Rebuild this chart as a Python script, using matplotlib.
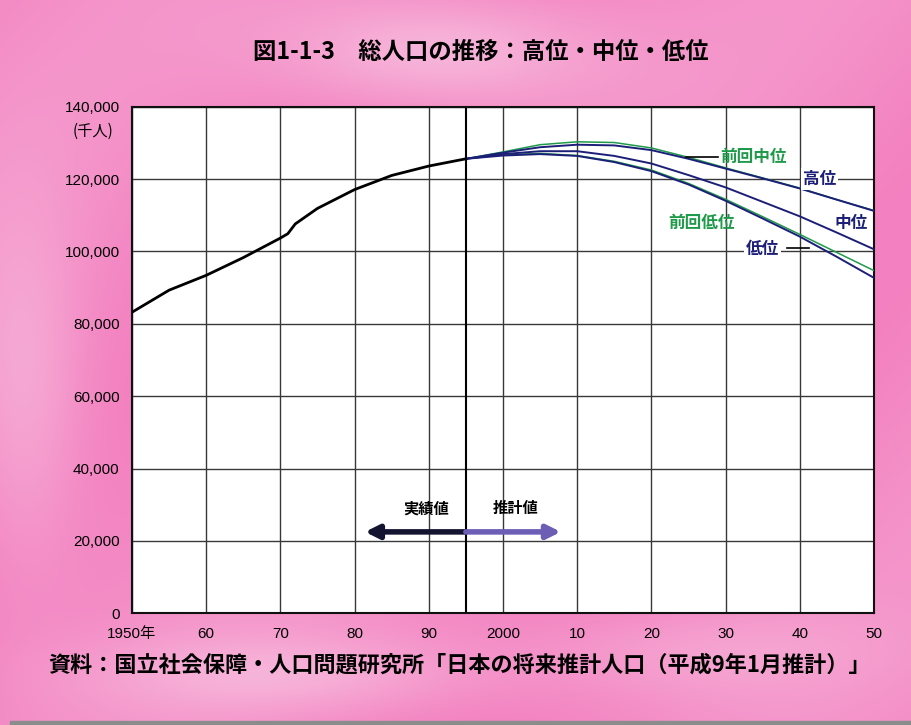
import numpy as np
import matplotlib
matplotlib.use("Agg")
import matplotlib.pyplot as plt
from matplotlib.patches import Rectangle

plt.rcParams['font.family'] = ['Noto Sans CJK JP', 'DejaVu Sans']

# Total population (thousands), observed
years_actual = [1950, 1955, 1960, 1965, 1970, 1971, 1972, 1975, 1980, 1985, 1990, 1995]
pop_actual = [83200, 89300, 93400, 98300, 103700, 104900, 107600, 111900, 117100, 121000, 123600, 125600]

# Projections (thousands)
proj_years = [1995, 2000, 2005, 2010, 2015, 2020, 2025, 2030, 2035, 2040, 2045, 2050]
pop_high = [125600, 127300, 128800, 129500, 129300, 128000, 125600, 122900, 120200, 117400, 114300, 111200]
pop_medium = [125600, 126900, 127700, 127700, 126400, 124300, 121100, 117700, 113700, 109700, 105200, 100600]
pop_low = [125600, 126500, 126900, 126400, 124700, 122200, 118500, 114000, 109100, 104100, 98500, 92700]
pop_prev_medium = [125600, 127500, 129500, 130300, 130100, 128600, 126000, 123100, 120300, 117500, 114300, 111300]
pop_prev_low = [125600, 126700, 127100, 126500, 124900, 122500, 118800, 114400, 109600, 104700, 99700, 94700]

x_ticks = [1950, 1960, 1970, 1980, 1990, 2000, 2010, 2020, 2030, 2040, 2050]
x_tick_labels = ['1950年', '60', '70', '80', '90', '2000', '10', '20', '30', '40', '50']
y_ticks = [0, 20000, 40000, 60000, 80000, 100000, 120000, 140000]
y_tick_labels = ['0', '20,000', '40,000', '60,000', '80,000', '100,000', '120,000', '140,000']

W, H = 911, 725
fig = plt.figure(figsize=(W / 100, H / 100), dpi=100)

# Pink marbled backdrop
yy, xx = np.mgrid[0:H, 0:W]
x = xx / W
y = yy / H
t = (0.55 * np.exp(-((x - 0.48) ** 2 / 0.03 + (y - 0.07) ** 2 / 0.006))
     + 0.35 * np.exp(-((x - 0.03) ** 2 / 0.004 + (y - 0.55) ** 2 / 0.06))
     + 0.35 * np.exp(-((x - 0.32) ** 2 / 0.05 + (y - 0.93) ** 2 / 0.003))
     + 0.25 * np.exp(-((x - 0.75) ** 2 / 0.04 + (y - 0.90) ** 2 / 0.004))
     + 0.22 * (0.5 + 0.5 * np.sin(9 * (x + 0.7 * y))))
t = np.clip(t, 0, 1)[..., None]
pink = np.array([243, 128, 192]) / 255
light = np.array([250, 222, 238]) / 255
bg_img = pink * (1 - t) + light * t
bg = fig.add_axes([0, 0, 1, 1], zorder=-10)
bg.imshow(bg_img, aspect='auto', extent=[0, 1, 0, 1], origin='upper')
bg.set_axis_off()
fig.patches.append(Rectangle((10 / W, 0), 1, 4 / H, transform=fig.transFigure,
                             color='#8c8c8c', zorder=5))

ax = fig.add_axes([132 / W, (H - 613.3) / H, (874 - 132) / W, (613.3 - 106.7) / H])
ax.set_facecolor('white')
ax.set_xlim(1950, 2050)
ax.set_ylim(0, 140000)
ax.set_xticks(x_ticks)
ax.set_xticklabels(x_tick_labels, fontsize=11,
                   family=['Liberation Sans', 'Noto Sans CJK JP'])
ax.set_yticks(y_ticks)
ax.set_yticklabels(y_tick_labels, fontsize=11, family=['Liberation Sans'])
ax.tick_params(length=0, pad=9)
ax.tick_params(axis='x', pad=10)
ax.grid(True, color='#383838', lw=1.0)
ax.set_axisbelow(True)
for s in ax.spines.values():
    s.set_color('#111111')
    s.set_linewidth(1.5)
ax.axvline(1995, color='black', lw=1.5, zorder=1)

navy = '#1c1f78'
green = '#1f9a4a'
ax.plot(proj_years, pop_prev_medium, color=green, lw=1.1, zorder=3)
ax.plot(proj_years, pop_prev_low, color=green, lw=1.1, zorder=3)
ax.plot(proj_years, pop_high, color=navy, lw=1.4, zorder=4)
ax.plot(proj_years, pop_medium, color=navy, lw=1.4, zorder=4)
ax.plot(proj_years, pop_low, color=navy, lw=1.4, zorder=4)
ax.plot(years_actual, pop_actual, color='black', lw=2.0, zorder=5)

# Series labels
lab = dict(fontsize=12, fontweight='bold', va='center', zorder=6)
ax.plot([2024.6, 2029.0], [126000, 126000], color='black', lw=1.2, zorder=4)
ax.text(2029.3, 126000, '前回中位', color=green, ha='left', **lab)
ax.text(2042.7, 120000, '高位', color=navy, ha='center',
        bbox=dict(facecolor='white', edgecolor='none', pad=1.5), **lab)
ax.text(2046.9, 107800, '中位', color=navy, ha='center', **lab)
ax.text(2026.8, 107800, '前回低位', color=green, ha='center', **lab)
ax.plot([2038.3, 2041.2], [101000, 101000], color='black', lw=1.2, zorder=4)
ax.text(2035.0, 100600, '低位', color=navy, ha='center',
        bbox=dict(facecolor='white', edgecolor='none', pad=1.5), **lab)

# Observed / projected arrows
ax.annotate('', xy=(1981.4, 22500), xytext=(1995, 22500),
            arrowprops=dict(arrowstyle='-|>', lw=4, color='#141430',
                            mutation_scale=20, shrinkA=0, shrinkB=0), zorder=6)
ax.annotate('', xy=(2007.8, 22500), xytext=(1995, 22500),
            arrowprops=dict(arrowstyle='-|>', lw=4, color='#6c5db5',
                            mutation_scale=20, shrinkA=0, shrinkB=0), zorder=6)
ax.text(1989.6, 29000, '実績値', fontsize=11, fontweight='bold', ha='center', va='center')
ax.text(2001.7, 29000, '推計値', fontsize=11, fontweight='bold', ha='center', va='center')

fig.text(93 / W, 1 - 131 / H, '(千人)', fontsize=11, ha='center', va='center')
fig.text(481 / W, 1 - 52 / H, '図1-1-3　総人口の推移：高位・中位・低位',
         fontsize=16.8, fontweight='bold', ha='center', va='center')
fig.text(48 / W, 1 - 665 / H,
         '資料：国立社会保障・人口問題研究所「日本の将来推計人口（平成9年1月推計）」',
         fontsize=15.9, fontweight='bold', ha='left', va='center')

fig.savefig('out.png', dpi=100)
